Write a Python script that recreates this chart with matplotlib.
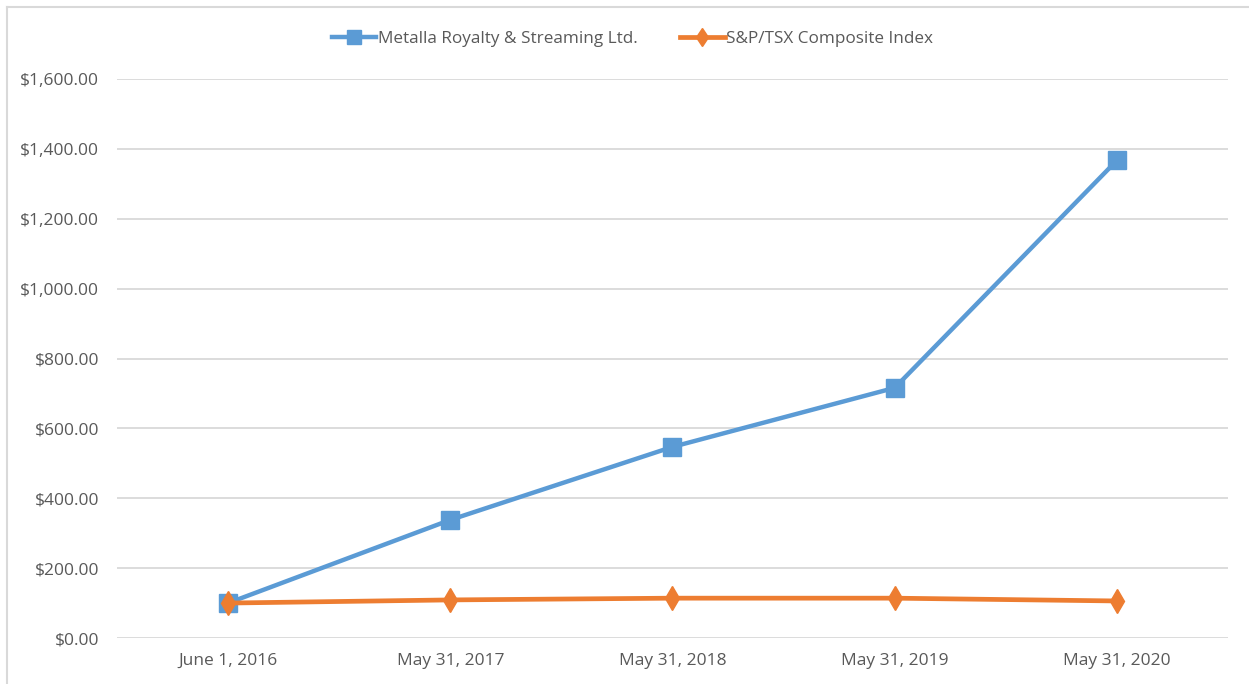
import matplotlib
matplotlib.use("Agg")
import matplotlib.pyplot as plt
from matplotlib.lines import Line2D
from matplotlib.ticker import FuncFormatter

categories = ["June 1, 2016", "May 31, 2017", "May 31, 2018", "May 31, 2019", "May 31, 2020"]
metalla = [100, 338, 547, 716, 1367]
tsx = [100, 109, 114, 114, 106]

plt.rcParams['font.family'] = ['Open Sans', 'DejaVu Sans']

W, H = 1249, 684
fig = plt.figure(figsize=(W / 100, H / 100), dpi=100)
ax = fig.add_axes([117 / W, 1 - 638 / H, (1228 - 117) / W, (638 - 79) / H])

x = [i + 0.5 for i in range(len(categories))]
blue = "#5B9BD5"
orange = "#ED7D31"
ax.plot(x, metalla, color=blue, lw=3.2, marker='s', markersize=12.5, label="Metalla Royalty & Streaming Ltd.", zorder=3)
ax.plot(x, tsx, color=orange, lw=3.4, marker='d', markersize=12.5, label="S&P/TSX Composite Index", zorder=4)

ax.set_xlim(0, len(categories))
ax.set_ylim(0, 1600)
ax.set_yticks(range(0, 1601, 200))
ax.yaxis.set_major_formatter(FuncFormatter(lambda v, p: "${:,.2f}".format(v)))
ax.set_xticks(x)
ax.set_xticklabels(categories)
ax.grid(axis='y', color="#D9D9D9", lw=1.3)
ax.set_axisbelow(True)
for s in ax.spines.values():
    s.set_visible(False)
ax.tick_params(axis='both', length=0, labelsize=12.5, labelcolor="#595959")
ax.tick_params(axis='y', pad=13)
ax.tick_params(axis='x', pad=11)

leg = ax.legend(loc='center', bbox_to_anchor=((632.5 - 117) / 1111, (638 - 39) / (638 - 79)), ncol=2, frameon=False,
                fontsize=12.3, labelcolor="#595959", handlelength=2.6, columnspacing=2.5, handletextpad=0.1,
                markerscale=0.75)

fig.add_artist(Line2D([6.5 / W, 6.5 / W], [0, 1 - 6.5 / H], transform=fig.transFigure, color="#D9D9D9", lw=1.5))
fig.add_artist(Line2D([6.5 / W, 1], [1 - 6.5 / H, 1 - 6.5 / H], transform=fig.transFigure, color="#D9D9D9", lw=1.5))

fig.savefig("out.png", dpi=100)
